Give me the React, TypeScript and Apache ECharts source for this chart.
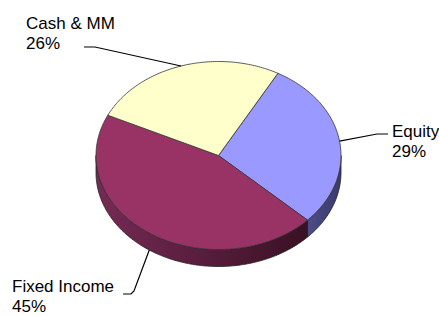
import React, { useEffect, useRef } from "react";
import * as echarts from "echarts";

// ---- data ----
const categories = ["Equity", "Fixed Income", "Cash & MM"];
const values = [29, 45, 26];

// ---- styles / layout ----
const topColors = ["#9999FF", "#993366", "#FFFFCC"];
const sideColors = [
  ["#4c4c88", "#3a3a6c"],
  ["#762a55", "#3a1024"],
  ["#8a8a66", "#6a6a4c"],
];
const START_ANGLE = 61;
const CX = 218.5;
const CY = 155.5;
const RX = 122.5;
const RY = 94;
const DEPTH = 17;

const labelLayout = [
  { x: 392, y: 121, path: [[377, 134], [388, 134]] },
  { x: 12, y: 276, path: [[134, 291], [131, 294], [123, 294]] },
  { x: 26, y: 13, path: [[95, 47], [84, 47]] },
];

const FONT = '"Liberation Sans", Arial, sans-serif';

export default function App() {
  const ref = useRef<HTMLDivElement>(null);

  useEffect(() => {
    if (!ref.current) return;
    const chart = echarts.init(ref.current, undefined, { renderer: "svg" });
    const total = values.reduce((a, b) => a + b, 0);

    const pt = (deg: number, dy = 0) => {
      const r = (deg * Math.PI) / 180;
      return [CX + RX * Math.cos(r), CY - RY * Math.sin(r) + dy];
    };
    const arc = (from: number, to: number, dy = 0) => {
      const n = Math.max(2, Math.ceil(Math.abs(from - to)));
      const pts: number[][] = [];
      for (let s = 0; s <= n; s++) pts.push(pt(from + ((to - from) * s) / n, dy));
      return pts;
    };

    const renderItem = (params: any, api: any) => {
      const i = params.dataIndex;
      const v = api.value(0);
      let cum = 0;
      for (let k = 0; k < i; k++) cum += values[k];
      const a0 = START_ANGLE - (cum / total) * 360;
      const a1 = a0 - (v / total) * 360;
      const children: any[] = [];

      // visible side wall (front half of the ellipse)
      for (const k of [-360, 0, 360]) {
        const lo = Math.max(a1, -180 + k);
        const hi = Math.min(a0, k);
        if (hi > lo) {
          const top = arc(hi, lo);
          const bot = arc(lo, hi, DEPTH);
          children.push({
            type: "polygon",
            shape: { points: top.concat(bot) },
            style: {
              fill: new echarts.graphic.LinearGradient(0, 0, 1, 0, [
                { offset: 0, color: sideColors[i][0] },
                { offset: 1, color: sideColors[i][1] },
              ]),
              stroke: "#222",
              lineWidth: 0.8,
            },
            z2: 1,
          });
        }
      }

      // top face
      children.push({
        type: "polygon",
        shape: { points: [[CX, CY]].concat(arc(a0, a1)) },
        style: { fill: topColors[i], stroke: "#333", lineWidth: 0.8 },
        z2: 5,
      });

      // leader line
      const mid = (a0 + a1) / 2;
      const norm = ((mid % 360) + 360) % 360;
      const front = norm > 180;
      const anchor = pt(mid, front ? DEPTH : 0);
      const lay = labelLayout[i];
      children.push({
        type: "polyline",
        shape: { points: [anchor].concat(lay.path) },
        style: { stroke: "#000", lineWidth: 1.2, fill: null },
        z2: 10,
      });

      // label
      children.push({
        type: "text",
        x: lay.x,
        y: lay.y,
        style: {
          text: `${categories[i]}\n${Math.round((v / total) * 100)}%`,
          fill: "#000",
          fontSize: 17,
          fontFamily: FONT,
          lineHeight: 20,
          verticalAlign: "top",
          align: "left",
        },
        z2: 10,
      });

      return { type: "group", children };
    };

    chart.setOption({
      animation: false,
      backgroundColor: "#ffffff",
      series: [
        {
          type: "custom",
          coordinateSystem: "none",
          renderItem,
          silent: true,
          data: values.map((v, i) => ({ name: categories[i], value: [v] })),
        },
      ],
    });

    return () => chart.dispose();
  }, []);

  return (
    <div
      ref={ref}
      style={{ position: "fixed", left: 0, top: 0, width: 439, height: 316 }}
    />
  );
}
